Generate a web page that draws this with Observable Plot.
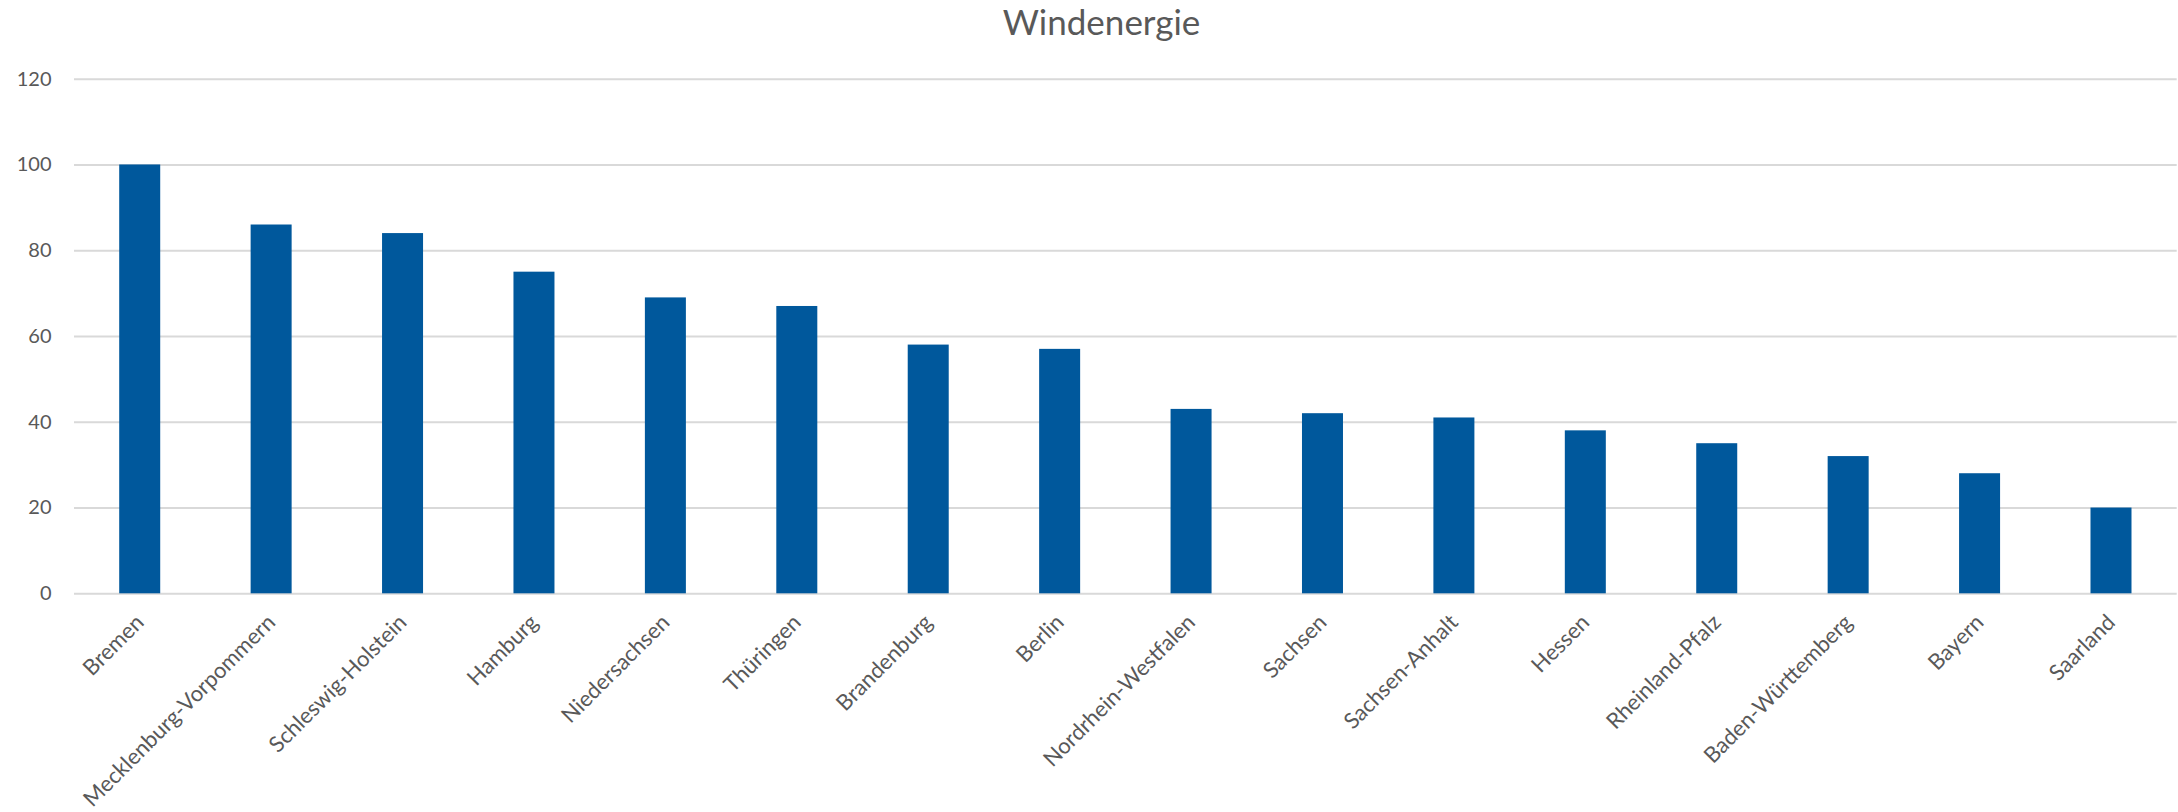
<!DOCTYPE html>
<html><head><meta charset="utf-8">
<script src="https://cdn.jsdelivr.net/npm/d3@7"></script>
<script src="https://cdn.jsdelivr.net/npm/@observablehq/plot@0.6"></script>
<style>
body{margin:0;background:#fff;font-family:Lato,sans-serif;}
#wrap{position:relative;width:2178px;height:812px;}
#title{position:absolute;left:0;width:2203px;top:5px;text-align:center;font-size:35px;line-height:32px;color:#595959;font-family:Lato,sans-serif;}
#chart{position:absolute;left:0;top:0;}
</style></head><body>
<div id="wrap"><div id="chart"></div><div id="title">Windenergie</div></div>
<script>
const states = ["Bremen","Mecklenburg-Vorpommern","Schleswig-Holstein","Hamburg","Niedersachsen","Thüringen","Brandenburg","Berlin","Nordrhein-Westfalen","Sachsen","Sachsen-Anhalt","Hessen","Rheinland-Pfalz","Baden-Württemberg","Bayern","Saarland"];
const values = [100,86,84,75,69,67,58,57,43,42,41,38,35,32,28,20];
const yTicks = [0,20,40,60,80,100,120];
const data = states.map((s,i)=>({state:s,value:values[i]}));
const plot = Plot.plot({
  width:2178, height:812,
  marginTop:78.7, marginBottom:218.7, marginLeft:74, marginRight:1.3,
  style:{fontFamily:"Lato, sans-serif", fontSize:"20px", color:"#595959", background:"white"},
  x:{domain:states, paddingInner:0.688, paddingOuter:0.344, round:false, label:null},
  y:{domain:[0,120], label:null},
  marks:[
    Plot.ruleY(yTicks,{stroke:"#d9d9d9", strokeWidth:2}),
    Plot.barY(data,{x:"state", y:"value", fill:"#00589C"}),
    Plot.axisY({ticks:yTicks, tickSize:0, tickPadding:23, fontSize:20, color:"#595959", label:null}),
    Plot.axisX({tickSize:0, tickRotate:-45, tickPadding:25, fontSize:22, color:"#595959", label:null})
  ]
});
document.getElementById("chart").appendChild(plot);
</script>
</body></html>
